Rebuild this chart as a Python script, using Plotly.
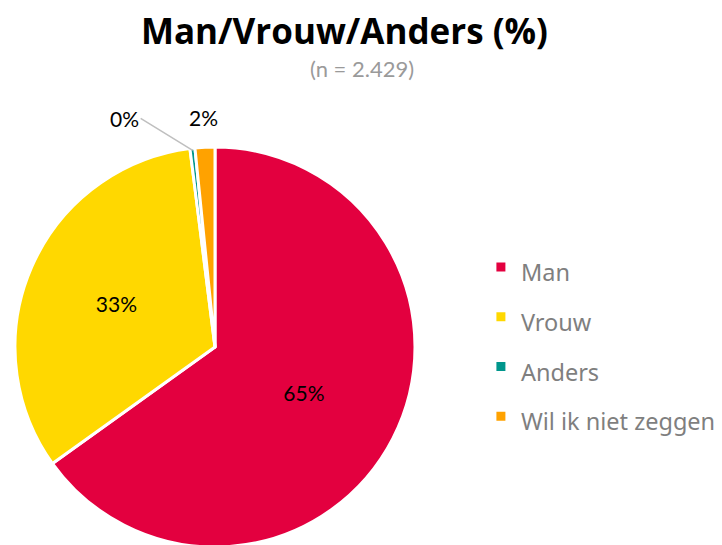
import math
import plotly.graph_objects as go

labels = ["Man", "Vrouw", "Anders", "Wil ik niet zeggen"]
values = [65.1, 32.9, 0.4, 1.6]
colors = ["#E3003F", "#FFD800", "#00968C", "#FFA200"]

W, H = 722, 545
# pie placement in figure pixels (centre x, centre y from top, radius);
# the page adds an 8px body margin, so these sit 8px up/left of the target
cx, cy, r = 207, 339, 200

fig = go.Figure(go.Pie(
    labels=[f"<span style='font-size:23.5px'>{l}</span>" for l in labels],
    values=values,
    sort=False,
    direction="clockwise",
    rotation=0,
    marker=dict(colors=colors, line=dict(color="white", width=3)),
    texttemplate="%{percent:.0%}",
    textposition=["inside", "inside", "none", "none"],
    insidetextorientation="horizontal",
    textfont=dict(family="Lato", size=21, color="black"),
    hoverinfo="label+percent",
    domain=dict(x=[(cx - r) / W, (cx + r) / W], y=[0, 2 * (H - cy) / H]),
))

# labels for the two thin slices, placed just outside the pie at their mid angle
total = sum(values)


def slice_point(i, radius):
    mid = (sum(values[:i]) + values[i] / 2) / total * 2 * math.pi
    return cx + radius * math.sin(mid), cy - radius * math.cos(mid)


ax_, ay_ = slice_point(2, r - 2)
wx, wy = slice_point(3, r + 30)
pct = [f"{round(v / total * 100)}%" for v in values]

fig.update_layout(
    width=W,
    height=H,
    margin=dict(l=0, r=0, t=0, b=0),
    paper_bgcolor="white",
    title=dict(
        text="<b>Man/Vrouw/Anders (%)</b>",
        x=0.466, xanchor="center",
        y=1 - 24 / H, yanchor="middle",
        font=dict(family="Open Sans", size=35, color="black"),
    ),
    annotations=[
        dict(
            text="(n = 2.429)",
            x=0.49, y=1 - 61 / H, xref="paper", yref="paper",
            xanchor="center", yanchor="middle", showarrow=False,
            font=dict(family="Lato", size=22, color="#9a9a9a"),
        ),
        dict(
            text=pct[2],
            x=ax_ / W, y=1 - ay_ / H, xref="paper", yref="paper",
            ax=-52, ay=-32, axref="pixel", ayref="pixel",
            showarrow=True, arrowhead=0, arrowwidth=1.5, arrowcolor="#bfbfbf",
            xanchor="right", standoff=0,
            font=dict(family="Lato", size=21, color="black"),
        ),
        dict(
            text=pct[3],
            x=wx / W, y=1 - wy / H, xref="paper", yref="paper",
            xanchor="center", yanchor="middle", showarrow=False,
            font=dict(family="Lato", size=21, color="black"),
        ),
    ],
    legend=dict(
        x=0.655, xanchor="left",
        y=1 - 334 / H, yanchor="middle",
        font=dict(family="Noto Sans", size=36, color="#7f7f7f"),
        itemwidth=30,
    ),
)

fig.write_html("out.html")
